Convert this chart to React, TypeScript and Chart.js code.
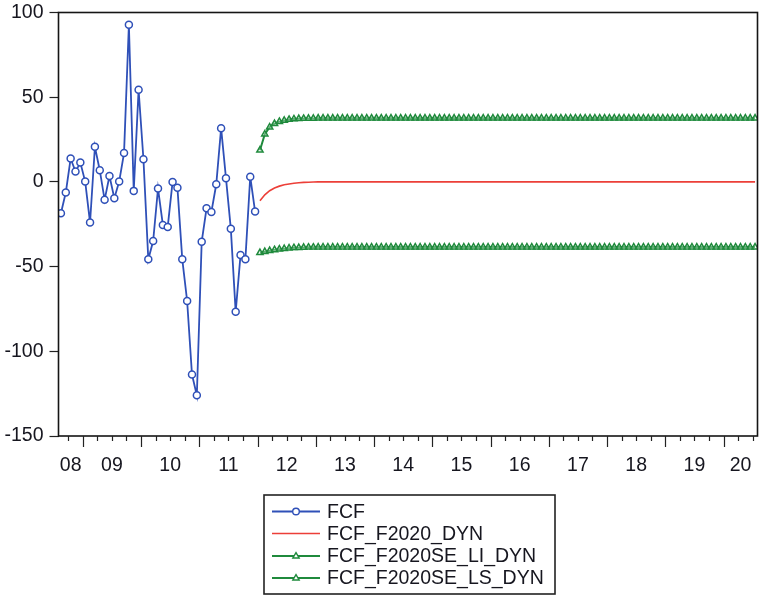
import React, { useEffect, useRef } from 'react';
import { Chart, registerables } from 'chart.js';

Chart.register(...registerables);

// Monthly data: Aug 2008 (index 0) .. Jul 2020 (index 143)
const firstYear = 2008;
const firstMonthOfYear = 7; // August (0-based)
const monthsTotal = 144;
const forecastStartIndex = 41; // Jan 2012

const yearLabels = ['08', '09', '10', '11', '12', '13', '14', '15', '16', '17', '18', '19', '20'];

// FCF, Aug 2008 .. Dec 2011
const fcfValues = [
  -18.5, -6.3, 13.8, 6.1, 11.4, 0.2, -24.0, 20.7, 6.9, -10.6,
  3.5, -9.6, 0.2, 17.0, 92.8, -5.3, 54.4, 13.4, -45.7, -34.9,
  -3.9, -25.4, -26.6, 0.0, -3.4, -45.7, -70.3, -113.7, -126.0, -35.3,
  -15.6, -17.7, -1.4, 31.7, 2.2, -27.6, -76.7, -43.1, -45.7, 3.1,
  -17.5,
];

// FCF_F2020_DYN, Jan 2012 .. Jul 2020
const forecastValues = [
  -11.2, -7.6, -5.2, -3.6, -2.5, -1.7, -1.2, -0.8, -0.5, -0.3,
  -0.2, -0.1, 0, 0, 0, 0, 0, 0, 0, 0,
  0, 0, 0, 0, 0, 0, 0, 0, 0, 0,
  0, 0, 0, 0, 0, 0, 0, 0, 0, 0,
  0, 0, 0, 0, 0, 0, 0, 0, 0, 0,
  0, 0, 0, 0, 0, 0, 0, 0, 0, 0,
  0, 0, 0, 0, 0, 0, 0, 0, 0, 0,
  0, 0, 0, 0, 0, 0, 0, 0, 0, 0,
  0, 0, 0, 0, 0, 0, 0, 0, 0, 0,
  0, 0, 0, 0, 0, 0, 0, 0, 0, 0,
  0, 0, 0,
];

// FCF_F2020SE_LI_DYN (lower band)
const lowerValues = [
  -41.8, -41.2, -40.6, -40.1, -39.7, -39.4, -39.1, -38.9, -38.8, -38.7,
  -38.6, -38.6, -38.5, -38.5, -38.5, -38.5, -38.5, -38.5, -38.5, -38.5,
  -38.5, -38.5, -38.5, -38.5, -38.5, -38.5, -38.5, -38.5, -38.5, -38.5,
  -38.5, -38.5, -38.5, -38.5, -38.5, -38.5, -38.5, -38.5, -38.5, -38.5,
  -38.5, -38.5, -38.5, -38.5, -38.5, -38.5, -38.5, -38.5, -38.5, -38.5,
  -38.5, -38.5, -38.5, -38.5, -38.5, -38.5, -38.5, -38.5, -38.5, -38.5,
  -38.5, -38.5, -38.5, -38.5, -38.5, -38.5, -38.5, -38.5, -38.5, -38.5,
  -38.5, -38.5, -38.5, -38.5, -38.5, -38.5, -38.5, -38.5, -38.5, -38.5,
  -38.5, -38.5, -38.5, -38.5, -38.5, -38.5, -38.5, -38.5, -38.5, -38.5,
  -38.5, -38.5, -38.5, -38.5, -38.5, -38.5, -38.5, -38.5, -38.5, -38.5,
  -38.5, -38.5, -38.5,
];

// FCF_F2020SE_LS_DYN (upper band)
const upperValues = [
  18.7, 28.2, 32.3, 34.4, 35.6, 36.3, 36.8, 37.1, 37.3, 37.4,
  37.5, 37.5, 37.6, 37.6, 37.6, 37.6, 37.6, 37.6, 37.6, 37.6,
  37.6, 37.6, 37.6, 37.6, 37.6, 37.6, 37.6, 37.6, 37.6, 37.6,
  37.6, 37.6, 37.6, 37.6, 37.6, 37.6, 37.6, 37.6, 37.6, 37.6,
  37.6, 37.6, 37.6, 37.6, 37.6, 37.6, 37.6, 37.6, 37.6, 37.6,
  37.6, 37.6, 37.6, 37.6, 37.6, 37.6, 37.6, 37.6, 37.6, 37.6,
  37.6, 37.6, 37.6, 37.6, 37.6, 37.6, 37.6, 37.6, 37.6, 37.6,
  37.6, 37.6, 37.6, 37.6, 37.6, 37.6, 37.6, 37.6, 37.6, 37.6,
  37.6, 37.6, 37.6, 37.6, 37.6, 37.6, 37.6, 37.6, 37.6, 37.6,
  37.6, 37.6, 37.6, 37.6, 37.6, 37.6, 37.6, 37.6, 37.6, 37.6,
  37.6, 37.6, 37.6,
];

const yTicks = [-150, -100, -50, 0, 50, 100];

const BLUE = '#2f50b8';
const RED = '#ec3f38';
const GREEN = '#1f8a3c';
const TEXT = '#16161f';
const FONT_FAMILY = '"Liberation Sans", Arial, sans-serif';

function monthIndex(year: number, monthOfYear: number) {
  return (year - firstYear) * 12 + monthOfYear - firstMonthOfYear;
}

function yearTickValues() {
  return yearLabels.map((_, i) => {
    const y = firstYear + i;
    const start = Math.max(-0.5, monthIndex(y, 0) - 0.5);
    const end = Math.min(monthsTotal - 0.5, monthIndex(y + 1, 0) - 0.5);
    return (start + end) / 2;
  });
}

const framePlugin = {
  id: 'frame',
  afterDatasetsDraw(chart: any) {
    const { ctx, chartArea } = chart;
    ctx.save();
    ctx.strokeStyle = '#151515';
    ctx.lineWidth = 1.6;
    ctx.strokeRect(chartArea.left, chartArea.top, chartArea.right - chartArea.left, chartArea.bottom - chartArea.top);
    ctx.restore();
  },
};

const axisTicksPlugin = {
  id: 'axisTicks',
  afterDraw(chart: any) {
    const { ctx, chartArea } = chart;
    const xs = chart.scales.x;
    ctx.save();
    ctx.strokeStyle = '#222';
    ctx.lineWidth = 1.2;
    for (let m = 0; m <= monthsTotal; m++) {
      const moy = (m + firstMonthOfYear) % 12;
      if (moy % 3 !== 0) continue;
      const v = m - 0.5;
      if (v < -0.5 || v > monthsTotal - 0.5) continue;
      const px = Math.round(xs.getPixelForValue(v)) + 0.5;
      const len = moy === 0 ? 11 : 5;
      ctx.beginPath();
      ctx.moveTo(px, chartArea.bottom);
      ctx.lineTo(px, chartArea.bottom + len);
      ctx.stroke();
    }
    ctx.restore();
  },
};

function drawMarker(ctx: CanvasRenderingContext2D, style: string, x: number, y: number, r: number, color: string) {
  ctx.save();
  ctx.strokeStyle = color;
  ctx.lineWidth = 1.4;
  ctx.fillStyle = '#ffffff';
  ctx.beginPath();
  if (style === 'circle') {
    ctx.arc(x, y, r, 0, Math.PI * 2);
  } else if (style === 'triangle') {
    ctx.moveTo(x, y - r);
    ctx.lineTo(x + r * 0.95, y + r * 0.6);
    ctx.lineTo(x - r * 0.95, y + r * 0.6);
    ctx.closePath();
  }
  ctx.fill();
  ctx.stroke();
  ctx.restore();
}

const boxLegendPlugin = {
  id: 'boxLegend',
  afterDraw(chart: any) {
    const { ctx } = chart;
    const bx = 264, by = 495, bw = 291, bh = 99;
    ctx.save();
    ctx.strokeStyle = '#222';
    ctx.lineWidth = 1.6;
    ctx.strokeRect(bx, by, bw, bh);
    const rows = [511.5, 533.5, 556, 578];
    chart.data.datasets.forEach((ds: any, i: number) => {
      const y = rows[i];
      ctx.strokeStyle = ds.borderColor;
      ctx.lineWidth = ds.borderWidth;
      ctx.beginPath();
      ctx.moveTo(272, y);
      ctx.lineTo(320, y);
      ctx.stroke();
      if (ds.pointRadius > 0) drawMarker(ctx, ds.pointStyle, 296, y, 3.3, ds.borderColor);
      ctx.fillStyle = TEXT;
      ctx.font = `19.5px ${FONT_FAMILY}`;
      ctx.textBaseline = 'middle';
      ctx.textAlign = 'left';
      ctx.fillText(ds.label, 327, y + 1);
    });
    ctx.restore();
  },
};

export default function App() {
  const canvasRef = useRef<HTMLCanvasElement | null>(null);

  useEffect(() => {
    document.body.style.margin = '0';
    const canvas = canvasRef.current;
    if (!canvas) return;
    const tickVals = yearTickValues();

    const chart = new Chart(canvas, {
      type: 'line',
      data: {
        datasets: [
          {
            label: 'FCF',
            data: fcfValues.map((v, i) => ({ x: i, y: v })),
            borderColor: BLUE,
            backgroundColor: '#ffffff',
            borderWidth: 1.8,
            pointStyle: 'circle',
            pointRadius: 3.5,
            pointBorderWidth: 1.5,
            pointBackgroundColor: '#ffffff',
            pointBorderColor: BLUE,
            tension: 0,
          },
          {
            label: 'FCF_F2020_DYN',
            data: forecastValues.map((v, i) => ({ x: forecastStartIndex + i, y: v })),
            borderColor: RED,
            backgroundColor: RED,
            borderWidth: 1.6,
            pointRadius: 0,
            tension: 0,
          },
          {
            label: 'FCF_F2020SE_LI_DYN',
            data: lowerValues.map((v, i) => ({ x: forecastStartIndex + i, y: v })),
            borderColor: GREEN,
            backgroundColor: 'rgba(255,255,255,0)',
            borderWidth: 2,
            pointStyle: 'triangle',
            pointRadius: 3.6,
            pointBorderWidth: 1.5,
            pointBackgroundColor: 'rgba(255,255,255,0.3)',
            pointBorderColor: GREEN,
            tension: 0,
          },
          {
            label: 'FCF_F2020SE_LS_DYN',
            data: upperValues.map((v, i) => ({ x: forecastStartIndex + i, y: v })),
            borderColor: GREEN,
            backgroundColor: 'rgba(255,255,255,0)',
            borderWidth: 2,
            pointStyle: 'triangle',
            pointRadius: 3.6,
            pointBorderWidth: 1.5,
            pointBackgroundColor: 'rgba(255,255,255,0.3)',
            pointBorderColor: GREEN,
            tension: 0,
          },
        ],
      },
      options: {
        responsive: false,
        animation: false,
        layout: { padding: { left: 0, top: 12.5, right: 1, bottom: 118 } },
        plugins: {
          legend: { display: false },
          tooltip: { enabled: false },
        },
        scales: {
          x: {
            type: 'linear',
            min: -0.5,
            max: monthsTotal - 0.5,
            border: { display: false },
            grid: { display: false, drawTicks: false },
            afterBuildTicks: (scale: any) => {
              scale.ticks = tickVals.map((v) => ({ value: v }));
            },
            afterFit: (scale: any) => {
              scale.height = 42;
              scale.paddingLeft = 0;
              scale.paddingRight = 0;
            },
            ticks: {
              autoSkip: false,
              maxRotation: 0,
              minRotation: 0,
              padding: 18,
              color: TEXT,
              font: { family: FONT_FAMILY, size: 19.5 },
              callback: (_v: any, idx: number) => yearLabels[idx],
            },
          },
          y: {
            type: 'linear',
            min: -150,
            max: 100,
            border: { display: false },
            grid: {
              drawOnChartArea: false,
              drawTicks: true,
              tickLength: 9,
              tickColor: '#222',
              tickWidth: 1.2,
            },
            afterBuildTicks: (scale: any) => {
              scale.ticks = yTicks.map((v) => ({ value: v }));
            },
            afterFit: (scale: any) => {
              scale.width = 58.5;
              scale.paddingTop = 0;
              scale.paddingBottom = 0;
            },
            ticks: {
              padding: 6,
              color: TEXT,
              font: { family: FONT_FAMILY, size: 19.5 },
              callback: (v: any) => String(v),
            },
          },
        },
      },
      plugins: [framePlugin, axisTicksPlugin, boxLegendPlugin],
    });

    return () => {
      chart.destroy();
    };
  }, []);

  return (
    <div style={{ width: 763, height: 596, background: '#ffffff' }}>
      <canvas ref={canvasRef} width={763} height={596} style={{ display: 'block' }} />
    </div>
  );
}
